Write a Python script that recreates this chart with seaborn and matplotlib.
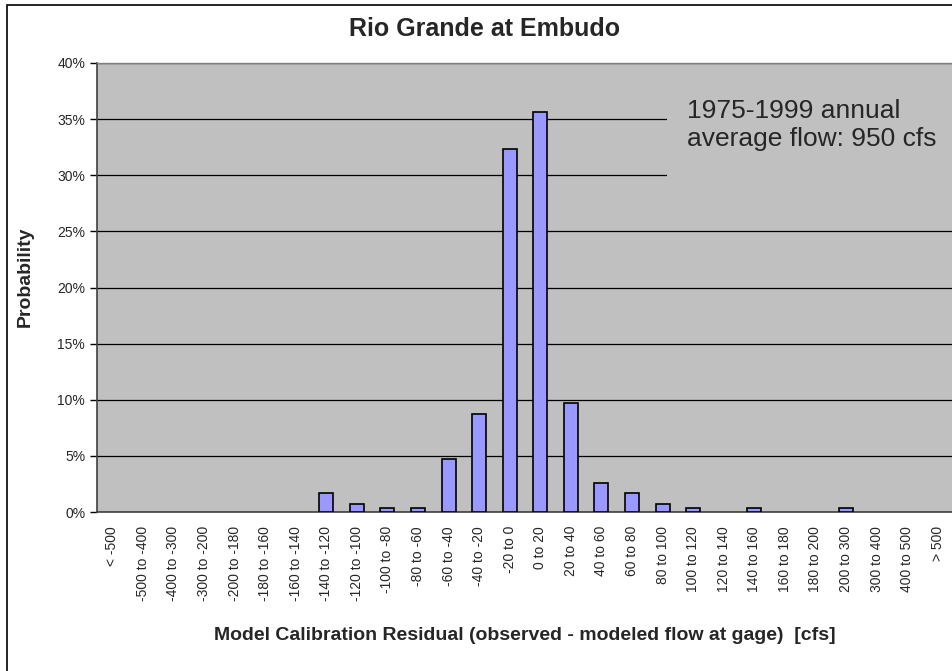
import numpy as np
import matplotlib
matplotlib.use("Agg")
import matplotlib.pyplot as plt
import matplotlib.patches as mpatches
import pandas as pd
import seaborn as sns

# residual bins and probability (%)
bins = ["< -500", "-500 to -400", "-400 to -300", "-300 to -200", "-200 to -180",
        "-180 to -160", "-160 to -140", "-140 to -120", "-120 to -100", "-100 to -80",
        "-80 to -60", "-60 to -40", "-40 to -20", "-20 to 0", "0 to 20", "20 to 40",
        "40 to 60", "60 to 80", "80 to 100", "100 to 120", "120 to 140", "140 to 160",
        "160 to 180", "180 to 200", "200 to 300", "300 to 400", "400 to 500", "> 500"]
probability = [0, 0, 0, 0, 0,
               0, 0, 1.7, 0.7, 0.35,
               0.35, 4.7, 8.7, 32.3, 35.6, 9.7,
               2.6, 1.7, 0.7, 0.35, 0, 0.35,
               0, 0, 0.35, 0, 0, 0]
yticks = list(range(0, 45, 5))

df = pd.DataFrame({"bin": bins, "prob": probability})

sns.set_style("white")
plt.rcParams["font.family"] = ["Liberation Sans", "DejaVu Sans"]

W, H = 953, 671
fig = plt.figure(figsize=(W / 100, H / 100), dpi=100)
ax = fig.add_axes([97 / W, 159 / H, 856 / W, 449 / H])
ax.set_facecolor("#C0C0C0")

sns.barplot(data=df, x="bin", y="prob", color="#9999FF", saturation=1,
            edgecolor="black", linewidth=1.2, width=0.46, ax=ax, zorder=3)
# empty bins: no outline
for p in ax.patches:
    if p.get_height() == 0:
        p.set_linewidth(0)

ax.set_xlim(-0.5, len(bins) - 0.5)
ax.set_ylim(0, 40)
ax.set_yticks(yticks)
ax.set_yticklabels([f"{t}%" for t in yticks], fontsize=10)
ax.yaxis.grid(True, color="black", linewidth=0.9)
ax.set_axisbelow(True)

ax.set_xticks(np.arange(len(bins)))
ax.set_xticklabels(bins, rotation=90, fontsize=10)
ax.set_xticks(np.arange(len(bins) + 1) - 0.5, minor=True)
ax.tick_params(axis="x", which="major", length=0, pad=10)
ax.tick_params(axis="x", which="minor", length=5, width=1, color="black", direction="out")
ax.tick_params(axis="y", length=5, width=1, color="black", direction="out", left=True)

for s in ["left", "bottom"]:
    ax.spines[s].set_color("#404040")
    ax.spines[s].set_linewidth(1.2)
ax.spines["top"].set_color("#808080")
ax.spines["top"].set_linewidth(1)
ax.spines["right"].set_visible(False)

ax.set_xlabel("")
ax.set_ylabel("")
fig.text(485 / W, 1 - 29 / H, "Rio Grande at Embudo", fontsize=18, fontweight="bold",
         ha="center", va="center")
fig.text(525 / W, 1 - 636 / H, "Model Calibration Residual (observed - modeled flow at gage)  [cfs]",
         fontsize=14, fontweight="bold", ha="center", va="center")
fig.text(25 / W, 1 - 277 / H, "Probability", fontsize=14, fontweight="bold",
         rotation=90, ha="center", va="center")

# gray text box hiding the gridlines behind the note
ax.add_patch(mpatches.Rectangle((0.666, 0.72), 0.334, 0.235, transform=ax.transAxes,
                                facecolor="#C0C0C0", edgecolor="none", zorder=2))
ax.text(0.689, 0.862, "1975-1999 annual\naverage flow: 950 cfs", transform=ax.transAxes,
        fontsize=19, va="center", ha="left", linespacing=1.25, zorder=5)

fig.patches.append(mpatches.Rectangle((7 / W, -0.1), 1.2, (666 / H) + 0.1,
                                      transform=fig.transFigure, fill=False,
                                      edgecolor="black", linewidth=1.2))

fig.savefig("out.png", dpi=100)
